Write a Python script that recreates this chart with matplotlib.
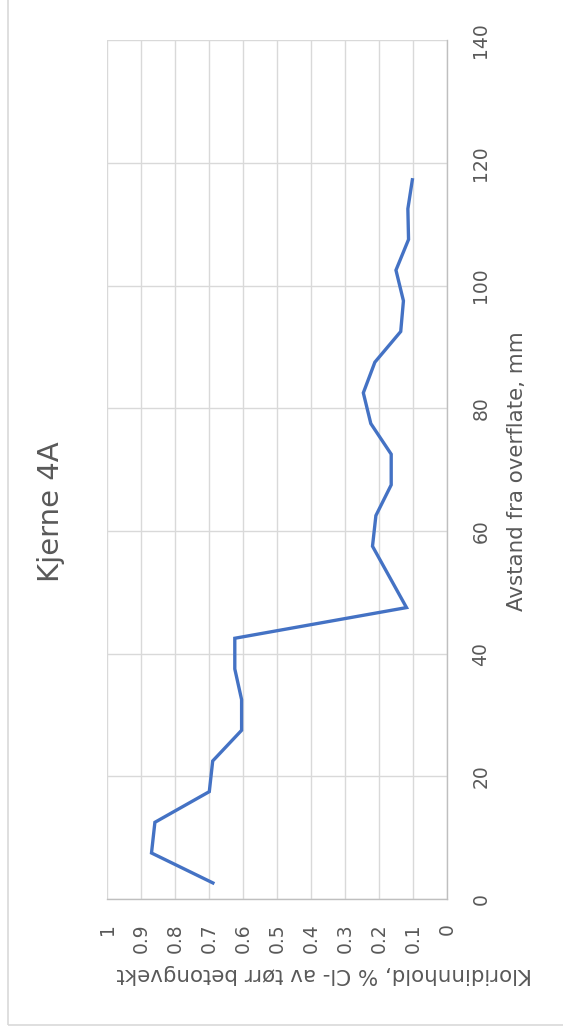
import matplotlib
matplotlib.use("Agg")
import matplotlib.pyplot as plt
from matplotlib.patches import Rectangle
import numpy as np

# Data (distance from surface in mm, chloride content in % Cl- of dry concrete weight)
distance_mm = [2.5, 7.5, 12.5, 17.5, 22.5, 27.5, 32.5, 37.5, 42.5, 47.5,
               57.5, 62.5, 67.5, 72.5, 77.5, 82.5, 87.5, 92.5, 97.5, 102.5,
               107.5, 112.5, 117.5]
chloride_pct = [0.685, 0.87, 0.86, 0.70, 0.69, 0.605, 0.605, 0.625, 0.625, 0.12,
                0.22, 0.21, 0.165, 0.165, 0.225, 0.247, 0.213, 0.137, 0.129, 0.151,
                0.114, 0.116, 0.102]

chloride_ticks = [1, 0.9, 0.8, 0.7, 0.6, 0.5, 0.4, 0.3, 0.2, 0.1, 0]
chloride_tick_labels = ["1", "0.9", "0.8", "0.7", "0.6", "0.5", "0.4", "0.3", "0.2", "0.1", "0"]
distance_ticks = [0, 20, 40, 60, 80, 100, 120, 140]

title = "Kjerne 4A"
x_title = "Avstand fra overflate, mm"
y_title = "Kloridinnhold, % Cl- av tørr betongvekt"

plt.rcParams['font.family'] = ['DejaVu Sans']

W, H = 563, 1035
fig = plt.figure(figsize=(W / 100, H / 100), dpi=100)
fig.patch.set_facecolor("white")

def fx(px):
    return px / W

def fy(py):
    return 1 - py / H

left, right, top, bottom = 107.3, 447.3, 40.1, 899.0
ax = fig.add_axes([fx(left), fy(bottom), fx(right) - fx(left), (bottom - top) / H])

ax.plot(chloride_pct, distance_mm, color="#4472C4", lw=2.4, solid_joinstyle="miter",
        solid_capstyle="butt", zorder=3)

ax.set_xlim(1, 0)
ax.set_ylim(0, 140)
ax.set_xticks(chloride_ticks)
ax.set_xticklabels(chloride_tick_labels)
ax.set_yticks(distance_ticks)
ax.yaxis.tick_right()

ax.grid(True, color="#D9D9D9", lw=1.0, zorder=0)
ax.set_axisbelow(True)
for s in ["top", "left"]:
    ax.spines[s].set_visible(False)
for s in ["right", "bottom"]:
    ax.spines[s].set_color("#BFBFBF")
    ax.spines[s].set_linewidth(1.0)

ax.tick_params(axis="x", length=0, pad=17.3, labelsize=13.5, labelcolor="#595959", labelrotation=90)
ax.tick_params(axis="y", length=0, pad=17.3, labelsize=13.5, labelcolor="#595959", labelrotation=90)
for lab in ax.get_yticklabels():
    lab.set_va("center")
    lab.set_ha("left")
for lab in ax.get_xticklabels():
    lab.set_ha("center")
    lab.set_va("top")

fig.text(fx(51), fy(512), title, rotation=90, ha="center", va="center",
         fontsize=21, color="#595959")
fig.text(fx(517), fy(471), x_title, rotation=90, ha="center", va="center",
         fontsize=15.4, color="#595959")
fig.text(fx(324), fy(974), y_title, rotation=180, ha="center", va="center",
         fontsize=15.4, color="#595959")

# outer chart border (top and right run off the image)
border = Rectangle((fx(8), fy(1025)), 1.2, 1.2, transform=fig.transFigure,
                   fill=False, edgecolor="#D9D9D9", lw=1.2, clip_on=False)
fig.patches.append(border)

fig.savefig("out.png", dpi=100, facecolor="white")
